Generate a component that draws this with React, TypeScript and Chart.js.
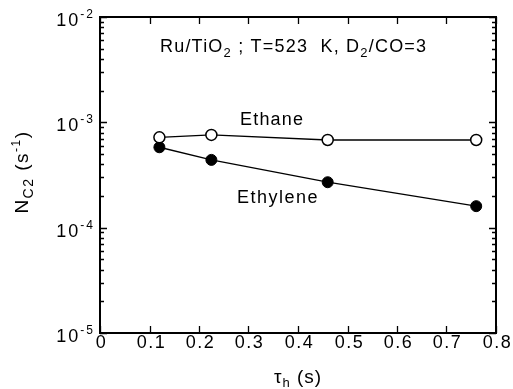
import React, { useEffect, useRef } from "react";
import { Chart, registerables } from "chart.js";

Chart.register(...registerables);

const tau = [0.12, 0.225, 0.46, 0.76];
const ethane = [7.2e-4, 7.6e-4, 6.8e-4, 6.8e-4];
const ethylene = [5.8e-4, 4.4e-4, 2.7e-4, 1.6e-4];
const xTicks = [0, 0.1, 0.2, 0.3, 0.4, 0.5, 0.6, 0.7, 0.8];
const xTickLabels = ["0", "0.1", "0.2", "0.3", "0.4", "0.5", "0.6", "0.7", "0.8"];
const yExponents = [-5, -4, -3, -2];

const FONT = "'Liberation Sans', Arial, sans-serif";

type Seg = { t: string; size: number; dy: number };

function drawSegs(ctx: CanvasRenderingContext2D, segs: Seg[], x: number, y: number, spacing = 0, align: "left" | "center" | "right" = "left") {
  ctx.save();
  ctx.textBaseline = "alphabetic";
  ctx.textAlign = "left";
  (ctx as any).letterSpacing = spacing + "px";
  let total = 0;
  const widths = segs.map((s) => {
    ctx.font = `${s.size}px ${FONT}`;
    const w = ctx.measureText(s.t).width;
    total += w;
    return w;
  });
  let cx = x;
  if (align === "center") cx = x - total / 2;
  if (align === "right") cx = x - total;
  segs.forEach((s, i) => {
    ctx.font = `${s.size}px ${FONT}`;
    ctx.fillText(s.t, cx, y + s.dy);
    cx += widths[i];
  });
  ctx.restore();
}

const framePlugin = {
  id: "frame",
  afterDraw(chart: any) {
    const ctx: CanvasRenderingContext2D = chart.ctx;
    const { left, right, top, bottom } = chart.chartArea;
    const xs = chart.scales.x;
    const ys = chart.scales.y;
    ctx.save();
    ctx.strokeStyle = "#000";
    ctx.fillStyle = "#000";
    ctx.lineWidth = 2;
    ctx.strokeRect(left, top, right - left, bottom - top);
    ctx.lineWidth = 1.3;
    // x ticks
    xTicks.forEach((v, i) => {
      const px = Math.round(xs.getPixelForValue(v)) + 0.5;
      ctx.beginPath();
      ctx.moveTo(px, bottom);
      ctx.lineTo(px, bottom - 7);
      ctx.moveTo(px, top);
      ctx.lineTo(px, top + 7);
      ctx.stroke();
      drawSegs(ctx, [{ t: xTickLabels[i], size: 18, dy: 0 }], px + 1, bottom + 15, 1.5, "center");
    });
    // y ticks
    yExponents.forEach((e, idx) => {
      const base = Math.pow(10, e);
      const py = Math.round(ys.getPixelForValue(base)) + 0.5;
      ctx.beginPath();
      ctx.moveTo(left, py);
      ctx.lineTo(left + 7, py);
      ctx.moveTo(right, py);
      ctx.lineTo(right - 7, py);
      ctx.stroke();
      drawSegs(
        ctx,
        [
          { t: "10", size: 18, dy: 0 },
          { t: "-" + Math.abs(e), size: 12, dy: -8 },
        ],
        left - 5,
        py + 8,
        2,
        "right"
      );
      if (idx < yExponents.length - 1) {
        for (let m = 2; m <= 9; m++) {
          const my = Math.round(ys.getPixelForValue(base * m)) + 0.5;
          ctx.beginPath();
          ctx.moveTo(left, my);
          ctx.lineTo(left + 4, my);
          ctx.moveTo(right, my);
          ctx.lineTo(right - 4, my);
          ctx.stroke();
        }
      }
    });
    // annotation
    drawSegs(
      ctx,
      [
        { t: "Ru/TiO", size: 18, dy: 0 },
        { t: "2", size: 13, dy: 5 },
        { t: " ; T=523  K, D", size: 18, dy: 0 },
        { t: "2", size: 13, dy: 5 },
        { t: "/CO=3", size: 18, dy: 0 },
      ],
      left + 60,
      top + 35,
      1.2
    );
    drawSegs(ctx, [{ t: "Ethane", size: 18, dy: 0 }], left + 140, top + 108, 1.2);
    drawSegs(ctx, [{ t: "Ethylene", size: 18, dy: 0 }], left + 137, top + 186, 1.5);
    // x title
    drawSegs(
      ctx,
      [
        { t: "τ", size: 19, dy: 0 },
        { t: "h", size: 13, dy: 4 },
        { t: " (s)", size: 19, dy: 0 },
      ],
      (left + right) / 2,
      bottom + 50,
      1,
      "center"
    );
    // y title
    ctx.save();
    ctx.translate(left - 72, 172);
    ctx.rotate(-Math.PI / 2);
    drawSegs(
      ctx,
      [
        { t: "N", size: 19, dy: 0 },
        { t: "C2", size: 14, dy: 5 },
        { t: " (s", size: 19, dy: 0 },
        { t: "-1", size: 12, dy: -8 },
        { t: ")", size: 19, dy: 0 },
      ],
      0,
      0,
      1.5,
      "center"
    );
    ctx.restore();
    ctx.restore();
  },
};

export default function App() {
  const ref = useRef<HTMLCanvasElement | null>(null);
  useEffect(() => {
    if (!ref.current) return;
    const chart = new Chart(ref.current, {
      type: "scatter",
      data: {
        datasets: [
          {
            label: "Ethane",
            data: tau.map((x, i) => ({ x, y: ethane[i] })),
            showLine: true,
            borderColor: "#000",
            borderWidth: 1.3,
            pointRadius: 5.5,
            pointBackgroundColor: "#fff",
            pointBorderColor: "#000",
            pointBorderWidth: 1.5,
          },
          {
            label: "Ethylene",
            data: tau.map((x, i) => ({ x, y: ethylene[i] })),
            showLine: true,
            borderColor: "#000",
            borderWidth: 1.3,
            pointRadius: 5.5,
            pointBackgroundColor: "#000",
            pointBorderColor: "#000",
            pointBorderWidth: 1,
          },
        ],
      },
      options: {
        responsive: false,
        animation: false,
        layout: { padding: { left: 100, top: 17, right: 17, bottom: 56 } },
        plugins: { legend: { display: false }, tooltip: { enabled: false } },
        scales: {
          x: { type: "linear", min: 0, max: 0.8, display: false },
          y: { type: "logarithmic", min: 1e-5, max: 1e-2, display: false },
        },
      },
      plugins: [framePlugin],
    });
    return () => chart.destroy();
  }, []);
  return (
    <div style={{ position: "absolute", left: 0, top: 0, width: 513, height: 389, background: "#fff" }}>
      <canvas ref={ref} width={513} height={389} />
    </div>
  );
}
